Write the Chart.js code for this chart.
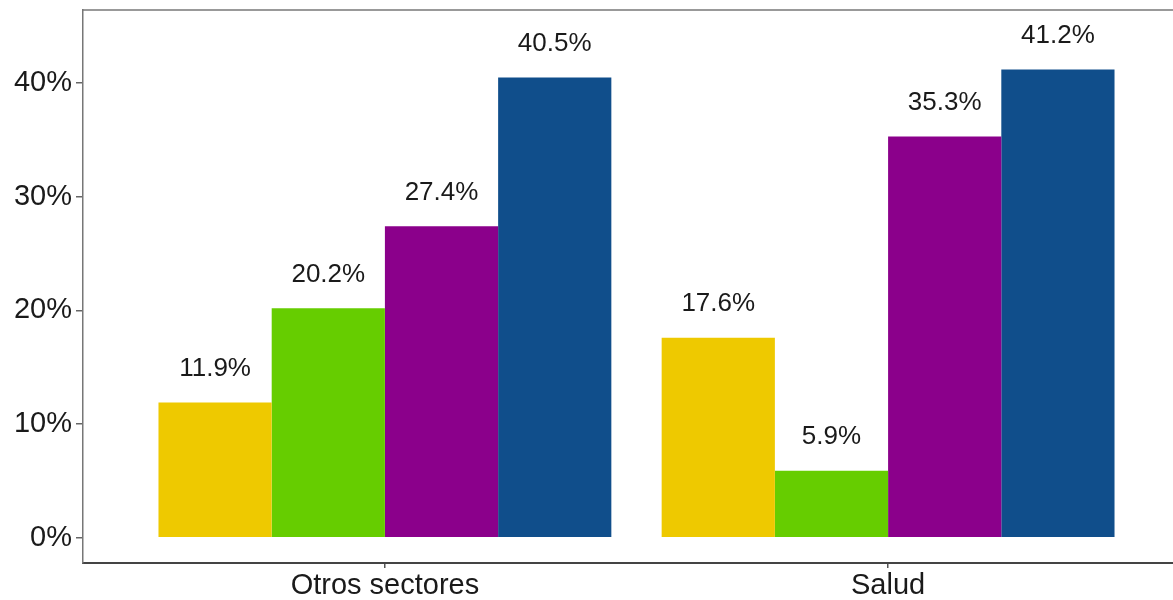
<!DOCTYPE html>
<html>
<head>
<meta charset="utf-8">
<script src="https://cdn.jsdelivr.net/npm/chart.js@4/dist/chart.umd.min.js"></script>
<style>
  html, body { margin: 0; padding: 0; background: #ffffff; overflow: hidden; }
  #wrap { position: relative; width: 1200px; height: 600px; }
</style>
</head>
<body>
<div id="wrap"><canvas id="chart"></canvas></div>
<script>
// Sectors on the x axis
const categories = ['Otros sectores', 'Salud'];

// Share (%) for each of the four groups, per sector
const group1 = [11.9, 17.6];
const group2 = [20.2, 5.9];
const group3 = [27.4, 35.3];
const group4 = [40.5, 41.2];

const groupNames = ['Grupo 1', 'Grupo 2', 'Grupo 3', 'Grupo 4'];
const groupColors = ['#EEC900', '#66CD00', '#8B008B', '#104E8B'];

// Value axis ticks
const yTicks = [0, 10, 20, 30, 40];

const FONT = "'Liberation Sans', Arial, Helvetica, sans-serif";

const series = [group1, group2, group3, group4];
const datasets = series.map((vals, i) => ({
  label: groupNames[i],
  data: vals.map((v, j) => ({ x: j, y: v })),
  backgroundColor: groupColors[i],
  borderWidth: 0,
  categoryPercentage: 0.9,
  barPercentage: 1.0
}));

// Value labels above each bar, plus the top edge of the panel
const decorations = {
  id: 'decorations',
  afterDatasetsDraw(chart) {
    const ctx = chart.ctx;
    const y = chart.scales.y;
    ctx.save();
    ctx.font = '26px ' + FONT;
    ctx.fillStyle = '#1a1a1a';
    ctx.textAlign = 'center';
    ctx.textBaseline = 'middle';
    chart.data.datasets.forEach((ds, di) => {
      const meta = chart.getDatasetMeta(di);
      meta.data.forEach((el, k) => {
        const v = ds.data[k].y;
        ctx.fillText(v.toFixed(1) + '%', el.x, y.getPixelForValue(v + 2.95));
      });
    });
    const a = chart.chartArea;
    ctx.strokeStyle = '#777777';
    ctx.lineWidth = 1.5;
    ctx.beginPath();
    ctx.moveTo(a.left - 0.75, a.top);
    ctx.lineTo(a.right, a.top);
    ctx.stroke();
    ctx.restore();
  }
};

new Chart(document.getElementById('chart'), {
  type: 'bar',
  data: { datasets },
  options: {
    responsive: true,
    maintainAspectRatio: false,
    animation: false,
    layout: { padding: { top: 10, right: 10, left: 0, bottom: 0 } },
    plugins: {
      legend: { display: false },
      tooltip: { enabled: false }
    },
    scales: {
      x: {
        type: 'linear',
        min: -0.6,
        max: 1.6,
        offset: false,
        grid: {
          offset: false,
          drawOnChartArea: false,
          drawTicks: true,
          tickLength: 5,
          color: '#555555',
          lineWidth: 1.5
        },
        border: { display: true, color: '#444444', width: 2 },
        afterBuildTicks(scale) {
          scale.ticks = categories.map((c, i) => ({ value: i }));
        },
        afterFit(scale) {
          scale.height = 37;
          scale.paddingLeft = 0;
          scale.paddingRight = 0;
        },
        ticks: {
          autoSkip: false,
          maxRotation: 0,
          padding: 1,
          color: '#1a1a1a',
          font: { family: FONT, size: 29 },
          callback: (v) => categories[v] !== undefined ? categories[v] : ''
        }
      },
      y: {
        min: -2.22,
        max: 46.43,
        grid: {
          drawOnChartArea: false,
          drawTicks: true,
          tickLength: 7,
          color: '#666666',
          lineWidth: 1.5
        },
        border: { display: true, color: '#777777', width: 1.5 },
        afterBuildTicks(scale) {
          scale.ticks = yTicks.map(v => ({ value: v }));
        },
        afterFit(scale) {
          scale.width = 83;
          scale.paddingTop = 0;
          scale.paddingBottom = 0;
        },
        ticks: {
          padding: 4,
          color: '#1a1a1a',
          font: { family: FONT, size: 29 },
          callback: (v) => v + '%'
        }
      }
    }
  },
  plugins: [decorations]
});
</script>
</body>
</html>
